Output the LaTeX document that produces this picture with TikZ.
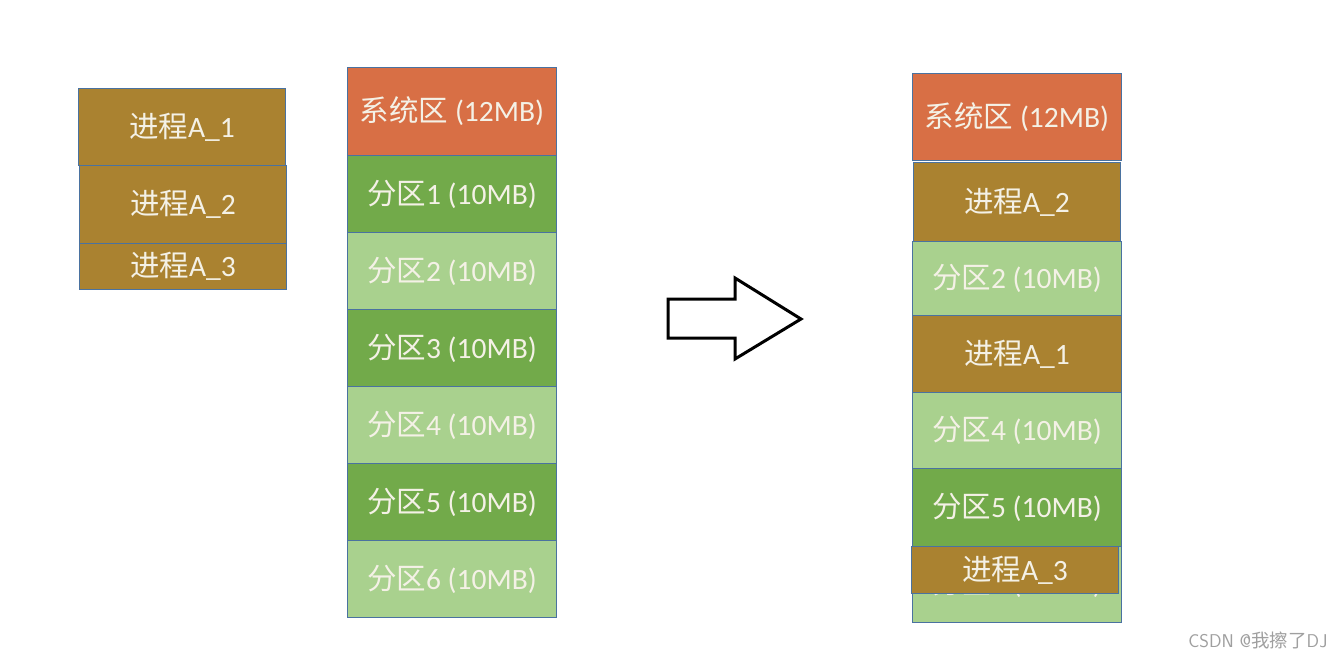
\documentclass[tikz,border=0pt]{standalone}
\usepackage{fontspec}
\setmainfont{Carlito}
\newfontfamily\cjk{Noto Sans CJK SC}
\definecolor{sysc}{HTML}{D86F45}
\definecolor{dkg}{HTML}{72AA4A}
\definecolor{ltg}{HTML}{A9D18E}
\definecolor{brn}{HTML}{AA8230}
\definecolor{edg}{HTML}{4A72A0}
\definecolor{txt}{HTML}{F4F1E6}
\tikzset{
  mbox/.style={draw=edg, line width=0.9pt, anchor=north west, minimum width=209pt,
    inner sep=0pt, text=txt, font=\fontsize{29.5}{31}\selectfont},
  sysbox/.style={mbox, fill=sysc},
  dbox/.style={mbox, fill=dkg},
  lbox/.style={mbox, fill=ltg},
  pbox/.style={mbox, fill=brn, minimum width=207pt},
}
\newcommand{\fq}[1]{{\cjk 分区}#1 (10MB)}
\newcommand{\jc}[1]{{\cjk 进程}A\_#1}
\begin{document}
\begin{tikzpicture}[x=1pt,y=-1pt]
\useasboundingbox[fill=white] (0,0) rectangle (1344,661);
% left process blocks
\node[pbox, minimum height=77pt] (a1) at (78,88) {\jc{1}};
\node[pbox, minimum height=78pt] (a2) at (79,165) {\jc{2}};
\node[pbox, minimum height=46pt] (a3) at (79,243) {\jc{3}};
% middle memory
\node[sysbox, minimum height=88pt] (s) at (347,67) {{\cjk 系统区} (12MB)};
\node[dbox, minimum height=77pt] (m1) at (347,155) {\fq{1}};
\node[lbox, minimum height=77pt] (m2) at (347,232) {\fq{2}};
\node[dbox, minimum height=77pt] (m3) at (347,309) {\fq{3}};
\node[lbox, minimum height=77pt] (m4) at (347,386) {\fq{4}};
\node[dbox, minimum height=77pt] (m5) at (347,463) {\fq{5}};
\node[lbox, minimum height=77pt] (m6) at (347,540) {\fq{6}};
% arrow
\draw[line width=3pt, line join=miter, fill=white] (668,299) -- (735,299) -- (735,278) -- (801,319) -- (735,359) -- (735,338) -- (668,338) -- cycle;
% right memory
\node[sysbox, minimum height=87pt] (rs) at (912,73) {{\cjk 系统区} (12MB)};
\node[lbox, minimum height=78pt] (r6) at (912,544) {\fq{6}};
\node[dbox, minimum height=78pt] (r5) at (912,468) {\fq{5}};
\node[lbox, minimum height=76pt] (r4) at (912,392) {\fq{4}};
\node[lbox, minimum height=74pt] (r2) at (912,241) {\fq{2}};
\node[pbox, minimum height=79pt] (ra2) at (913,162) {\jc{2}};
\node[pbox, minimum height=77pt, minimum width=209pt] (ra1) at (912,315) {\jc{1}};
\node[pbox, minimum height=47pt] (ra3) at (911,546) {\jc{3}};
% watermark
\node[anchor=east, text=gray!75, font=\fontsize{18.5}{20}\selectfont\sffamily] (wm) at (1331,640) {CSDN @{\cjk 我擦了}DJ};
\end{tikzpicture}
\end{document}
